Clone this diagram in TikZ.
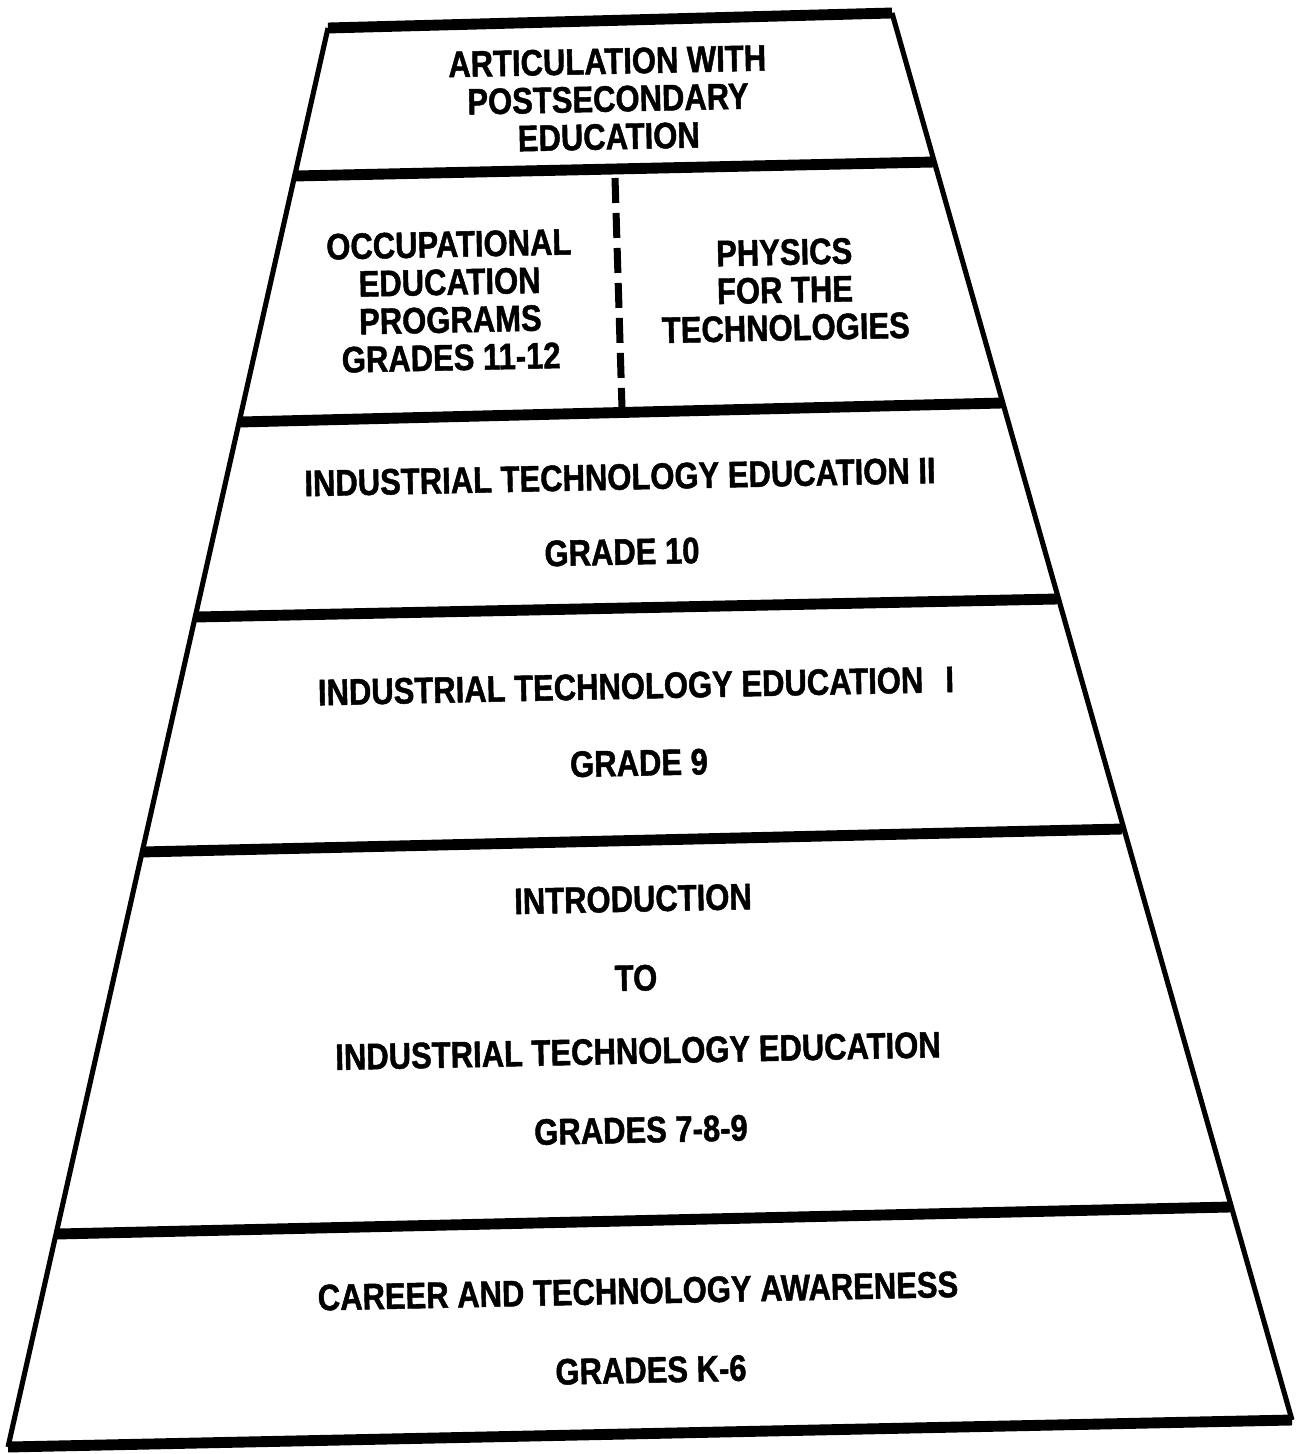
\documentclass[tikz,border=0pt]{standalone}
\usepackage{fontspec}
\newfontfamily\chartfont[FakeStretch=0.84,FakeBold=1.2]{Liberation Sans}
\usepackage{tikz}

\tikzset{
  txt/.style={font=\chartfont\bfseries\fontsize{21}{21.5}\selectfont,align=center,rotate=1.2,inner sep=0pt},
  hline/.style={line width=6.2pt},
  sideline/.style={line width=2.9pt},
  split/.style={line width=4pt,dash pattern=on 0.5cm off 0.2cm}
}

\begin{document}
\begin{tikzpicture}[x=0.02cm,y=-0.02cm]
\useasboundingbox (0,0) rectangle (1298,1454);
% corners on the left side
\coordinate (tl) at (328,28);
\coordinate (al) at (295,176);
\coordinate (bl) at (240,422);
\coordinate (cl) at (196,617);
\coordinate (dl) at (141,852);
\coordinate (el) at (57,1234);
\coordinate (fl) at (8,1447);
% corners on the right side
\coordinate (tr) at (892,13);
\coordinate (ar) at (934,162);
\coordinate (br) at (1002,403);
\coordinate (cr) at (1057,599);
\coordinate (dr) at (1122,829);
\coordinate (er) at (1230,1207);
\coordinate (fr) at (1292,1420);
% split between the two upper cells
\coordinate (s1) at (615,178);
\coordinate (s2) at (622,408);

\draw[sideline] (tl)--(fl);
\draw[sideline] (tr)--(fr);
\draw[hline] (tl)--(tr);
\draw[hline] (al)--(ar);
\draw[hline] (bl)--(br);
\draw[hline] (cl)--(cr);
\draw[hline] (dl)--(dr);
\draw[hline] (el)--(er);
\draw[hline] (fl)--(fr);
\draw[split] (s1)--(s2);

\node[txt] (art) at (608,99) {ARTICULATION WITH\\POSTSECONDARY\\EDUCATION};
\node[txt] (occ) at (450,301) {OCCUPATIONAL\\EDUCATION\\PROGRAMS\\GRADES 11-12};
\node[txt] (phy) at (785,290) {PHYSICS\\FOR THE\\TECHNOLOGIES};
\node[txt] (ite2) at (620,477) {INDUSTRIAL TECHNOLOGY EDUCATION II};
\node[txt] (gr10) at (622,552) {GRADE 10};
\node[txt] (ite1) at (636,686) {INDUSTRIAL TECHNOLOGY EDUCATION\hspace{0.6em}I};
\node[txt] (gr9) at (639,763) {GRADE 9};
\node[txt] (intro) at (633,899) {INTRODUCTION};
\node[txt] (to) at (636,978) {TO};
\node[txt] (ite) at (638,1051) {INDUSTRIAL TECHNOLOGY EDUCATION};
\node[txt] (gr789) at (641,1130) {GRADES 7-8-9};
\node[txt] (career) at (638,1291) {CAREER AND TECHNOLOGY AWARENESS};
\node[txt] (grk6) at (651,1370) {GRADES K-6};
\end{tikzpicture}
\end{document}
